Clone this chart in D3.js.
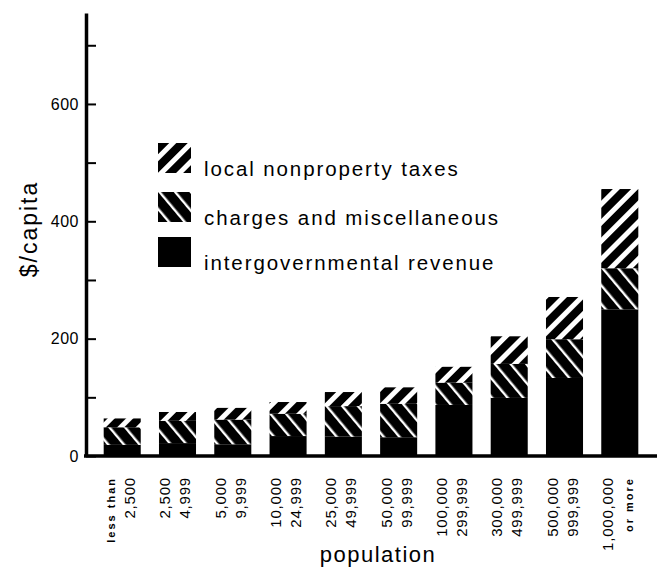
<!DOCTYPE html>
<html>
<head>
<meta charset="utf-8">
<script src="https://cdnjs.cloudflare.com/ajax/libs/d3/7.8.5/d3.min.js"></script>
<style>
  body { margin: 0; background: #fff; }
  text { font-family: "Liberation Sans", Arial, sans-serif; fill: #000; }
</style>
</head>
<body>
<svg id="chart" width="665" height="571"></svg>
<script>
/* data ($ per capita) */
var classesTop = ["less than", "2,500", "5,000", "10,000", "25,000", "50,000", "100,000", "300,000", "500,000", "1,000,000"];
var classesBottom = ["2,500", "4,999", "9,999", "24,999", "49,999", "99,999", "299,999", "499,999", "999,999", "or more"];
var intergov = [19, 22, 20, 34, 33, 32, 87, 99, 133, 250];
var charges = [30, 38, 42, 38, 52, 57, 38, 58, 66, 70];
var localTax = [15, 15, 20, 20, 24, 28, 27, 47, 72, 135];
var yTicks = [0, 100, 200, 300, 400, 500, 600, 700];
var yLabels = [0, 200, 400, 600];
var seriesNames = ["local nonproperty taxes", "charges and miscellaneous", "intergovernmental revenue"];

var svg = d3.select("#chart");

svg.append("rect").attr("width", 665).attr("height", 571).attr("fill", "#fff");

/* patronen voor de arcering */
var defs = svg.append("defs");

var pLocal = defs.append("pattern")
    .attr("id", "hatchLocal")
    .attr("patternUnits", "userSpaceOnUse")
    .attr("width", 13).attr("height", 13)
    .attr("patternTransform", "rotate(45)");
pLocal.append("rect").attr("width", 13).attr("height", 13).attr("fill", "#fff");
pLocal.append("rect").attr("width", 8).attr("height", 13).attr("fill", "#000");

var pCharges = defs.append("pattern")
    .attr("id", "hatchCharges")
    .attr("patternUnits", "userSpaceOnUse")
    .attr("width", 12).attr("height", 12)
    .attr("patternTransform", "rotate(-40)");
pCharges.append("rect").attr("width", 12).attr("height", 12).attr("fill", "#000");
pCharges.append("rect").attr("width", 2.4).attr("height", 12).attr("fill", "#fff");

var fills = ["url(#hatchLocal)", "url(#hatchCharges)", "#000"];

/* schalen */
var x = d3.scaleBand()
    .domain(classesTop.map(function(d, i) { return i; }))
    .range([86, 656])
    .paddingInner(0.33)
    .paddingOuter(0.32);

var y = d3.scaleLinear()
    .domain([0, 755])
    .range([456, 13]);

/* stapel: onder intergov, dan charges, dan local */
var rows = classesTop.map(function(d, i) {
  return { i: i, intergov: intergov[i], charges: charges[i], localTax: localTax[i] };
});
var stack = d3.stack().keys(["intergov", "charges", "localTax"]);
var layers = stack(rows);
var layerFill = { intergov: "#000", charges: "url(#hatchCharges)", localTax: "url(#hatchLocal)" };

svg.append("g").selectAll("g")
  .data(layers)
  .enter().append("g")
    .attr("fill", function(d) { return layerFill[d.key]; })
  .selectAll("rect")
  .data(function(d) { return d; })
  .enter().append("rect")
    .attr("x", function(d) { return x(d.data.i); })
    .attr("y", function(d) { return y(d[1]); })
    .attr("width", x.bandwidth())
    .attr("height", function(d) { return y(d[0]) - y(d[1]); });

/* y as */
var yAxis = svg.append("g")
    .attr("transform", "translate(86,0)")
    .call(d3.axisLeft(y)
      .tickValues(yTicks)
      .tickSizeInner(-10)
      .tickSizeOuter(0)
      .tickPadding(7)
      .tickFormat(function(d) { return yLabels.indexOf(d) >= 0 ? d : ""; }));
yAxis.select(".domain").attr("stroke-width", 3.5);
yAxis.selectAll(".tick line").attr("stroke-width", 2);
yAxis.selectAll(".tick text")
    .style("font-family", "'Liberation Sans', Arial, sans-serif")
    .style("font-size", "16px")
    .style("letter-spacing", "0.5px");

/* x as lijn */
svg.append("line")
    .attr("x1", 84).attr("x2", 657)
    .attr("y1", y(0)).attr("y2", y(0))
    .attr("stroke", "#000")
    .attr("stroke-width", 3.5);

/* x labels, gedraaid */
var xl = svg.append("g").selectAll("g")
  .data(classesTop)
  .enter().append("g")
    .attr("transform", function(d, i) { return "translate(" + (x(i) + x.bandwidth() / 2) + ",477)"; });

xl.append("text")
    .attr("transform", "translate(-7,0) rotate(-90)")
    .attr("text-anchor", "end")
    .style("font-size", function(d, i) { return i === 0 ? "11px" : "15px"; })
    .style("font-weight", function(d, i) { return i === 0 ? "bold" : "normal"; })
    .style("letter-spacing", function(d, i) { return i === 0 ? "2px" : "0.8px"; })
    .text(function(d) { return d; });

xl.append("text")
    .attr("transform", "translate(13,0) rotate(-90)")
    .attr("text-anchor", "end")
    .style("font-size", function(d, i) { return i === 9 ? "11px" : "15px"; })
    .style("font-weight", function(d, i) { return i === 9 ? "bold" : "normal"; })
    .style("letter-spacing", function(d, i) { return i === 9 ? "2px" : "0.8px"; })
    .text(function(d, i) { return classesBottom[i]; });

/* as titels */
svg.append("text")
    .attr("x", 378).attr("y", 562)
    .attr("text-anchor", "middle")
    .style("font-size", "22px")
    .style("letter-spacing", "1.5px")
    .text("population");

svg.append("text")
    .attr("transform", "translate(37,229) rotate(-90)")
    .attr("text-anchor", "middle")
    .style("font-size", "23px")
    .style("letter-spacing", "2px")
    .text("$/capita");

/* legenda */
var legend = svg.append("g").selectAll("g")
  .data(seriesNames)
  .enter().append("g")
    .attr("transform", function(d, i) { return "translate(158," + [143, 192, 237][i] + ")"; });

legend.append("rect")
    .attr("width", 33)
    .attr("height", 30)
    .attr("fill", function(d, i) { return fills[i]; });

legend.append("text")
    .attr("x", 46)
    .attr("y", 33)
    .style("font-size", "20.5px")
    .style("letter-spacing", "1.9px")
    .text(function(d) { return d; });
</script>
</body>
</html>
